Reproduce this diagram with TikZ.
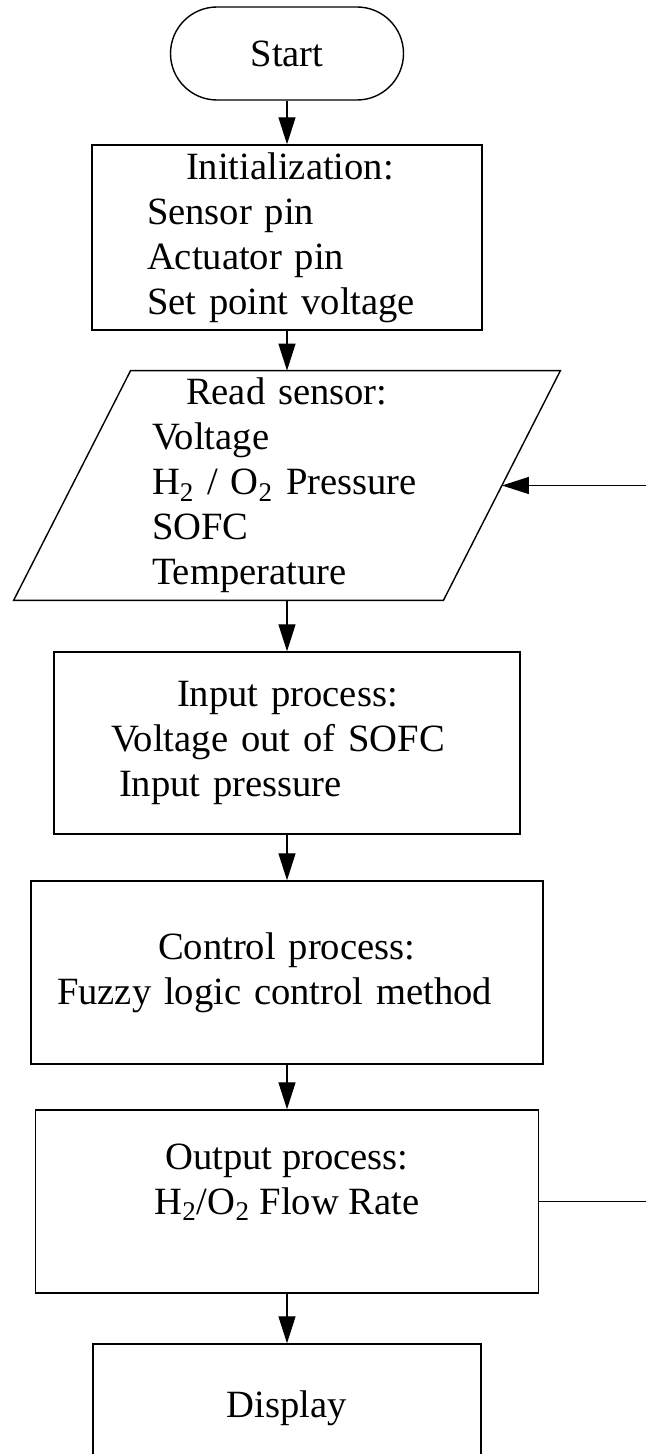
\documentclass[tikz,border=0pt]{standalone}
\usepackage{fontspec}
\setmainfont{Liberation Serif}
\usetikzlibrary{arrows.meta,calc,positioning}

\tikzset{
  flowfont/.style={font=\fontsize{19.3pt}{22.5pt}\selectfont},
  termbox/.style={draw,line width=0.7pt,rounded corners=23.25pt,
    minimum width=116.5pt,minimum height=46.5pt,flowfont},
  procbox/.style={draw,line width=0.7pt,rectangle,align=left,inner sep=0pt,flowfont},
  iobox/.style={rectangle,align=left,inner sep=0pt,flowfont},
  flow/.style={line width=0.6pt,-{Triangle[length=13.5pt,width=8.5pt]}},
}

\begin{document}
\begin{tikzpicture}[x=0.5pt,y=-0.5pt]
  \useasboundingbox (0,0) rectangle (646,1454);
  \clip (0,0) rectangle (646,1454);

  \node[termbox] (start) at (287,53.5) {Start};
  \node[procbox,minimum width=195pt,minimum height=92.5pt,text width=140pt] (init) at (287,237.5)
    {\hspace*{19.5pt}Initialization:\\Sensor pin\\Actuator pin\\Set point voltage};
  % input/output parallelogram
  \node[iobox,minimum width=214.5pt,minimum height=114.5pt,text width=135pt] (read) at (287,485.5)
    {\hspace*{17pt}Read sensor:\\Voltage\\H\textsubscript{2} / O\textsubscript{2} Pressure\\SOFC\\Temperature};
  \draw[line width=0.7pt] ($(read.north west)+(58.5,0)$) -- ($(read.north east)+(58.5,0)$)
    -- ($(read.south east)+(-58.5,0)$) -- ($(read.south west)+(-58.5,0)$) -- cycle;
  \node[procbox,minimum width=233pt,minimum height=91pt,text width=176pt] (input) at (287,743)
    {\hspace*{33pt}Input process:\\Voltage out of SOFC\\\hspace*{4pt}Input pressure};
  \node[procbox,minimum width=256pt,minimum height=91.5pt,text width=230pt] (control) at (287,972.5)
    {\hspace*{50.5pt}Control process:\\Fuzzy logic control method};
  \node[procbox,align=center,minimum width=251.5pt,minimum height=91.5pt] (output) at (287,1201.5)
    {Output process:\\H\textsubscript{2}/O\textsubscript{2} Flow Rate\\\mbox{}};
  \node[procbox,align=center,minimum width=194pt,minimum height=64pt] (display) at (287,1408) {Display};

  \draw[flow] (start) -- (init);
  \draw[flow] (init) -- (read);
  \draw[flow] (read) -- (input);
  \draw[flow] (input) -- (control);
  \draw[flow] (control) -- (output);
  \draw[flow] (output) -- (display);
  % feedback loop, its right side lies outside the page
  \coordinate (loopR) at ($(output.east)+(130,0)$);
  \draw[flow] (output.east) -- (loopR) |- (read.east);
\end{tikzpicture}
\end{document}
